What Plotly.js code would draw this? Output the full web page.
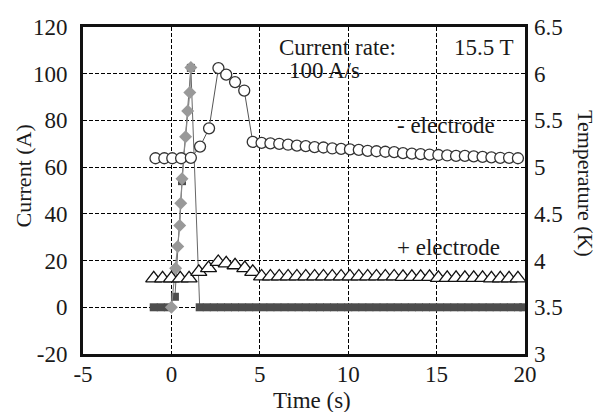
<!DOCTYPE html>
<html><head><meta charset="utf-8">
<script src="https://cdn.plot.ly/plotly-3.0.1.min.js"></script>
<style>html,body{margin:0;padding:0;background:#fff}#c{width:603px;height:412px}</style>
</head><body><div id="c"></div>
<script>
// Current (A) - dark squares series
const sqT = [-1.0,-0.6,-0.2,0.2,0.6,1.1,1.6,2.0,2.4,2.8,3.2,3.6,4.0,4.4,4.8,5.2,5.6,6.0,6.4,6.8,7.2,7.6,8.0,8.4,8.8,9.2,9.6,10.0,10.4,10.8,11.2,11.6,12.0,12.4,12.8,13.2,13.6,14.0,14.4,14.8,15.2,15.6,16.0,16.4,16.8,17.2,17.6,18.0,18.4,18.8,19.2,19.6,19.9];
const sqI = [0,0,0,4.5,54,102.5,0,0,0,0,0,0,0,0,0,0,0,0,0,0,0,0,0,0,0,0,0,0,0,0,0,0,0,0,0,0,0,0,0,0,0,0,0,0,0,0,0,0,0,0,0,0,0];
// Current (A) - gray diamonds series (ramp)
const dmT = [0.0,0.24,0.36,0.47,0.53,0.6,0.68,0.8,0.92,1.04,1.1];
const dmI = [0,16.7,26,35,44.5,55,64,73,84,92,102.7];
// Temperature (K) - "- electrode" circles
const ciT = [-0.9,-0.4,0.05,0.55,1.1,1.62,2.13,2.66,3.1,3.6,4.12,4.6,5.1,5.6,6.1,6.6,7.1,7.6,8.1,8.6,9.1,9.6,10.1,10.6,11.1,11.6,12.1,12.6,13.1,13.6,14.1,14.6,15.1,15.6,16.1,16.6,17.1,17.6,18.1,18.6,19.1,19.6];
const ciK = [5.095,5.095,5.095,5.095,5.1,5.22,5.415,6.06,5.99,5.91,5.82,5.27,5.26,5.255,5.25,5.24,5.23,5.225,5.215,5.21,5.2,5.195,5.19,5.185,5.175,5.17,5.165,5.16,5.15,5.145,5.14,5.135,5.13,5.125,5.12,5.12,5.115,5.11,5.105,5.1,5.1,5.095];
// Temperature (K) - "+ electrode" triangles
const trT = [-1.0,-0.5,0.0,0.5,1.0,1.55,2.1,2.65,3.1,3.6,4.15,4.6,5.1,5.6,6.1,6.6,7.1,7.6,8.1,8.6,9.1,9.6,10.1,10.6,11.1,11.6,12.1,12.6,13.1,13.6,14.1,14.6,15.1,15.6,16.1,16.6,17.1,17.6,18.1,18.6,19.1,19.6];
const trK = [3.81,3.81,3.81,3.81,3.81,3.88,3.92,3.985,3.97,3.95,3.92,3.88,3.83,3.83,3.83,3.83,3.83,3.83,3.83,3.83,3.83,3.83,3.83,3.83,3.83,3.83,3.83,3.83,3.825,3.825,3.825,3.825,3.815,3.815,3.815,3.815,3.815,3.815,3.81,3.81,3.81,3.81];
// Tick labels
const xTicks = [-5,0,5,10,15,20];
const xTickText = ["-5","0","5","10","15","20"];
const yTicks = [-20,0,20,40,60,80,100,120];
const yTickText = ["-20","0","20","40","60","80","100","120"];
const y2Ticks = [3,3.5,4,4.5,5,5.5,6,6.5];
const y2TickText = ["3","3.5","4","4.5","5","5.5","6","6.5"];

const F = "'Liberation Serif', 'Times New Roman', Times, 'DejaVu Serif', serif";
const FS = 23;   // horizontal text
const FV = 22;   // vertical text
const ink = "#1a1a1a";

const traces = [
  {x: sqT, y: sqI, mode: "lines+markers", yaxis: "y",
   line: {color: "#666", width: 1},
   marker: {symbol: "square", size: 8, color: "#4d4d4d"}},
  {x: trT, y: trK, mode: "lines+markers", yaxis: "y2",
   line: {color: "#222", width: 1},
   marker: {symbol: "triangle-up", size: 14, color: "#fff", line: {color: "#111", width: 1.3}}},
  {x: ciT, y: ciK, mode: "lines+markers", yaxis: "y2",
   line: {color: "#555", width: 1},
   marker: {symbol: "circle", size: 11, color: "#fff", line: {color: "#333", width: 1.3}}},
  {x: dmT, y: dmI, mode: "lines+markers", yaxis: "y",
   line: {color: "#888", width: 1.2},
   marker: {symbol: "diamond", size: 10, color: "#999"}}
];

const tf = {family: F, size: FS, color: ink};
const vf = {family: F, size: FV, color: ink};

const layout = {
  width: 603, height: 412,
  margin: {l: 83, r: 78, t: 27, b: 58, pad: 0},
  paper_bgcolor: "#fff", plot_bgcolor: "#fff",
  showlegend: false,
  font: tf,
  xaxis: {range: [-5, 20], tickvals: xTicks, ticktext: xTickText,
    showline: true, linewidth: 3, linecolor: "#111", mirror: true,
    showgrid: true, gridcolor: "#000", gridwidth: 1, griddash: "4px,2px",
    zeroline: false, ticks: "", ticklen: 0, ticklabelstandoff: -3,
    tickfont: tf},
  yaxis: {range: [-20, 120], tickvals: yTicks, ticktext: yTickText,
    showline: true, linewidth: 3, linecolor: "#111", mirror: true,
    showgrid: true, gridcolor: "#000", gridwidth: 1, griddash: "4px,2px",
    zeroline: false, ticks: "", ticklabelstandoff: 8,
    tickfont: tf},
  yaxis2: {range: [3, 6.5], tickvals: y2Ticks, ticktext: y2TickText,
    overlaying: "y", side: "right", showgrid: false, zeroline: false,
    showline: false, ticks: "", ticklabelstandoff: 8,
    tickfont: tf},
  annotations: [
    {xref: "x", yref: "y", x: 5.97, y: 111.4, text: "Current rate:", showarrow: false, xanchor: "left", yanchor: "middle", font: tf},
    {xref: "x", yref: "y", x: 6.54, y: 101.2, text: "100 A/s", showarrow: false, xanchor: "left", yanchor: "middle", font: tf},
    {xref: "x", yref: "y", x: 15.87, y: 111.4, text: "15.5 T", showarrow: false, xanchor: "left", yanchor: "middle", font: tf},
    {xref: "x", yref: "y", x: 12.65, y: 78, text: "- electrode", showarrow: false, xanchor: "left", yanchor: "middle", font: tf},
    {xref: "x", yref: "y", x: 12.65, y: 25.4, text: "+ electrode", showarrow: false, xanchor: "left", yanchor: "middle", font: tf},
    {xref: "paper", yref: "paper", x: 0.5175, y: -0.142, text: "Time (s)", showarrow: false, xanchor: "center", yanchor: "middle", borderpad: 0, font: tf},
    {xref: "paper", yref: "paper", x: -0.1357, y: 0.543, text: "Current (A)", textangle: -90, showarrow: false, xanchor: "center", yanchor: "middle", font: vf},
    {xref: "paper", yref: "paper", x: 1.1357, y: 0.52, text: "Temperature (K)", textangle: 90, showarrow: false, xanchor: "center", yanchor: "middle", font: vf}
  ]
};

Plotly.newPlot("c", traces, layout, {staticPlot: true, displayModeBar: false});
</script>
</body></html>
